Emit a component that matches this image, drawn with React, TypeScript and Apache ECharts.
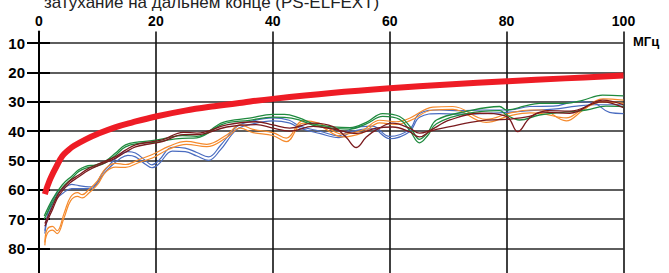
import React, { useEffect, useRef } from "react";
import * as echarts from "echarts";

const xTicks = [0, 20, 40, 60, 80, 100];
const yTicks = [10, 20, 30, 40, 50, 60, 70, 80, 90];
const titleText = "затухание на дальнем конце (PS-ELFEXT)";
const unitText = "МГц";

const limitLine = [[1,61.5],[1.5,58.5],[2,56],[3,52],[4,48.5],[5,46.5],[6,45],[8,42.8],[10,41],[13,38.7],[16,37],[20,35],[25,33],[30,31.5],[35,30.2],[40,29],[50,27],[60,25.4],[70,24.1],[80,23],[90,22],[100,21]];

const blueA = [[1,74],[1.7,66.5],[2.8,62],[4.2,59.5],[5.6,58.2],[6.8,58.6],[8.5,59],[9.3,58.8],[10.8,54.5],[12.3,51],[13.8,48.2],[15.2,47],[16.5,47.5],[18.2,50],[19.3,51.5],[20.5,50],[22.8,45.5],[25,45.8],[27,47.3],[29,48.8],[31,45],[33.8,38.5],[36,36.8],[40,35.5],[42.8,36.3],[44.6,38.3],[48,40],[51.3,41.6],[53.7,39],[57,38.3],[60,41.8],[63.4,39.4],[65.1,34],[68.5,32.8],[72,33],[76,32.8],[80.5,32.8],[84,31.6],[88,31.5],[92,29.9],[95,30.5],[97.6,33.6],[100,34]];
const blueB = [[1,75],[1.7,68],[2.8,63.5],[4.2,61],[5.6,59.6],[6.8,59.6],[8.5,59.6],[9.3,59.3],[10.8,55.3],[12.3,52],[13.8,49.5],[15.2,48.3],[16.5,48.8],[18.2,51.3],[19.3,52.5],[20.5,51.2],[22.8,46.8],[25,47],[27,48.5],[29,50],[31,46.5],[33.8,39.5],[36,37.8],[40,36.5],[42.8,37.2],[44.6,39],[48,40.8],[51.3,42.2],[53.7,40],[57,39.2],[60,42.6],[63.4,40.2],[65.1,35.3],[68.5,34],[72,34.2],[76,34],[80.5,33.5],[84,33],[88,32.5],[92,31.5],[95,31],[97.6,31],[100,31]];

const orangeA = [[1,78],[1.4,73.5],[2.3,72.5],[3.1,74],[4.3,68],[5.4,62.5],[6.6,61],[7.4,61.7],[8.5,60],[10,57],[11.4,52.7],[13.1,51],[14.8,51.4],[17.1,49.7],[19.4,48],[22.2,45.2],[25.2,43.5],[28.7,44.5],[32.1,41.3],[34.4,37.9],[36.6,39.4],[40,40.5],[42.3,42.4],[45.2,36.4],[48,37.3],[52,41],[55.4,39.6],[58.3,36.3],[61.1,36.8],[63.4,35.6],[67.4,31.8],[70.8,31.6],[76.5,36],[80.5,33.9],[84,32.8],[86,32.8],[90.2,36.5],[93,33],[96.5,29],[100,29.4]];
const orangeB = [[1,79],[1.4,75],[2.3,73.8],[3.1,75],[4.3,69.5],[5.4,63.8],[6.6,62.3],[7.4,62.8],[8.5,61.2],[10,58.3],[11.4,54],[13.1,52.3],[14.8,52.4],[17.1,50.7],[19.4,49.2],[22.2,46.2],[25.2,44.5],[28.7,45.3],[32.1,42.2],[34.4,39],[36.6,40.5],[40,41.5],[42.3,43.6],[45.2,37.3],[48,38.2],[52,42],[55.4,40.5],[58.3,37.2],[61.1,37.7],[63.4,36.5],[67.4,32.8],[70.8,32.6],[76.5,37],[80.5,34.8],[84,33.8],[86,34],[90.2,35.5],[93,32.5],[96.5,30],[100,30.5]];

const greenA = [[0.9,69],[2.3,63.3],[4,58.3],[5.7,55.2],[6.8,53.2],[8,52],[9.7,51.5],[11.4,50.2],[13.1,47.5],[14.8,44.7],[17.1,43.7],[19.9,43.1],[22.2,42.2],[24.5,41.5],[27,41.8],[31.5,37],[36,35.6],[40,34.3],[42,34.3],[44.5,35.5],[47.5,37.8],[53.2,38.8],[56,37],[58.8,34],[61.7,35],[63.5,38.5],[65.1,42.8],[66.5,40.5],[68,36.2],[73.1,33.3],[78.8,31.6],[80,32.8],[83,31.5],[85.6,30.5],[90,30.5],[93,29.5],[96.4,27.7],[100,28]];
const greenB = [[0.9,70],[2.3,64.5],[4,59.3],[5.7,56],[6.8,53.8],[8,52.6],[9.7,52],[11.4,50.8],[13.1,48.2],[14.8,45.4],[17.1,44.2],[19.9,43.8],[22.2,43],[24.5,42.5],[27,42.3],[31.5,37.6],[36,36.3],[40,35.2],[42,35.3],[44.5,36.2],[47.5,38.3],[53.2,39.3],[56,37.5],[58.8,35],[61.7,36],[63.5,40],[65.1,44],[66.5,41.5],[68,37.5],[73.1,34],[78.8,33],[80,34.5],[82.2,36.2],[85.6,34.5],[90,33.5],[93.6,32.8],[97,31.5],[100,31.6]];

const maroonA = [[1,71.5],[2.3,65.8],[3.4,61.2],[5.1,57.3],[6.8,55],[8.5,52.7],[10.8,50.7],[13.1,48.7],[14.8,46.5],[16.5,44.7],[18.8,43.8],[21.1,43],[24.7,40.4],[27,40.7],[32.1,37.9],[37.2,36.8],[40,37.9],[42.9,39],[46.9,37.3],[50.3,38.5],[52.5,42],[54.3,45.6],[56,42],[57.7,39.6],[60.5,37.3],[63.4,39],[65.1,40.7],[70.3,36.2],[75.4,33.9],[80,35],[81.9,40.2],[83.9,35.6],[86,33.5],[90.8,33.9],[96.4,29.4],[100,31]];
const maroonB = [[1,72.5],[2.3,66.8],[3.4,62],[5.1,58],[6.8,55.6],[8.5,53.3],[10.8,51.2],[13.1,49.2],[14.8,47.2],[16.5,45.4],[18.8,44.4],[21.1,43.6],[24.7,41.2],[27,41.2],[32.1,38.6],[37.2,37.8],[40,39],[42.9,40],[46.9,38.4],[50.3,39.3],[54.3,40.8],[57.7,39],[60.5,38.6],[63.4,40.2],[65.1,42],[67,40],[70.3,38.5],[75.4,36.5],[80,36],[83.9,35],[87,33],[90.8,33.2],[96.4,30],[100,32]];

const FONT = 'Arial, "Liberation Sans", sans-serif';

function lineSeries(data: number[][], color: string, width: number) {
  return {
    type: "line",
    data,
    showSymbol: false,
    symbol: "none",
    smooth: 0.4,
    lineStyle: { color, width },
    silent: true,
  };
}

export default function App() {
  const ref = useRef<HTMLDivElement>(null);
  useEffect(() => {
    if (!ref.current) return;
    const chart = echarts.init(ref.current, null, { renderer: "svg" });
    const yCommon = {
      type: "value",
      min: 6,
      max: 100,
      inverse: true,
    };
    chart.setOption({
      animation: false,
      backgroundColor: "#ffffff",
      grid: { left: 39, right: 45.5, top: 31.5, bottom: 13.1 },
      xAxis: {
        type: "value",
        position: "top",
        min: 0,
        max: 100,
        interval: 20,
        axisLine: { show: false },
        axisTick: { show: false },
        axisLabel: {
          margin: 4,
          color: "#000",
          fontWeight: "bold",
          fontSize: 14,
          fontFamily: FONT,
          customValues: xTicks,
        },
        splitLine: { show: true, lineStyle: { color: "#111", width: 1.6 } },
      },
      yAxis: [
        {
          ...yCommon,
          position: "left",
          axisLine: { show: true, onZero: false, lineStyle: { color: "#000", width: 2 } },
          axisTick: { show: true, inside: false, length: 12, customValues: yTicks, lineStyle: { color: "#000", width: 2 } },
          axisLabel: {
            margin: 14,
            color: "#000",
            fontWeight: "bold",
            fontSize: 15,
            fontFamily: FONT,
            customValues: yTicks,
          },
          splitLine: { show: true, lineStyle: { color: "#5e5e5e", width: 2 } },
        },
        {
          ...yCommon,
          position: "left",
          axisLine: { show: false },
          axisTick: { show: true, inside: true, length: 11, customValues: yTicks, lineStyle: { color: "#000", width: 2 } },
          axisLabel: { show: false, customValues: yTicks },
          splitLine: { show: false },
        },
      ],
      graphic: [
        {
          type: "text",
          x: 44,
          y: 2,
          style: {
            text: titleText,
            fill: "#222",
            font: `17px ${FONT}`,
            verticalAlign: "middle",
            align: "left",
          },
        },
        {
          type: "text",
          x: 633,
          y: 41,
          style: {
            text: unitText,
            fill: "#000",
            font: `bold 13px ${FONT}`,
            verticalAlign: "middle",
            align: "left",
          },
        },
      ],
      series: [
        lineSeries(blueA, "#4a6cc0", 1.2),
        lineSeries(blueB, "#4a6cc0", 1.2),
        lineSeries(orangeA, "#f58a2c", 1.2),
        lineSeries(orangeB, "#f58a2c", 1.2),
        lineSeries(greenA, "#1f8a3e", 1.3),
        lineSeries(greenB, "#1f8a3e", 1.3),
        lineSeries(maroonA, "#7a1a1e", 1.3),
        lineSeries(maroonB, "#7a1a1e", 1.3),
        lineSeries(limitLine, "#ee1c25", 6),
      ],
    });
    return () => chart.dispose();
  }, []);
  return (
    <div style={{ position: "fixed", left: 0, top: 0, width: 669, height: 273, overflow: "hidden", background: "#fff" }}>
      <div ref={ref} style={{ width: 669, height: 320 }} />
    </div>
  );
}
